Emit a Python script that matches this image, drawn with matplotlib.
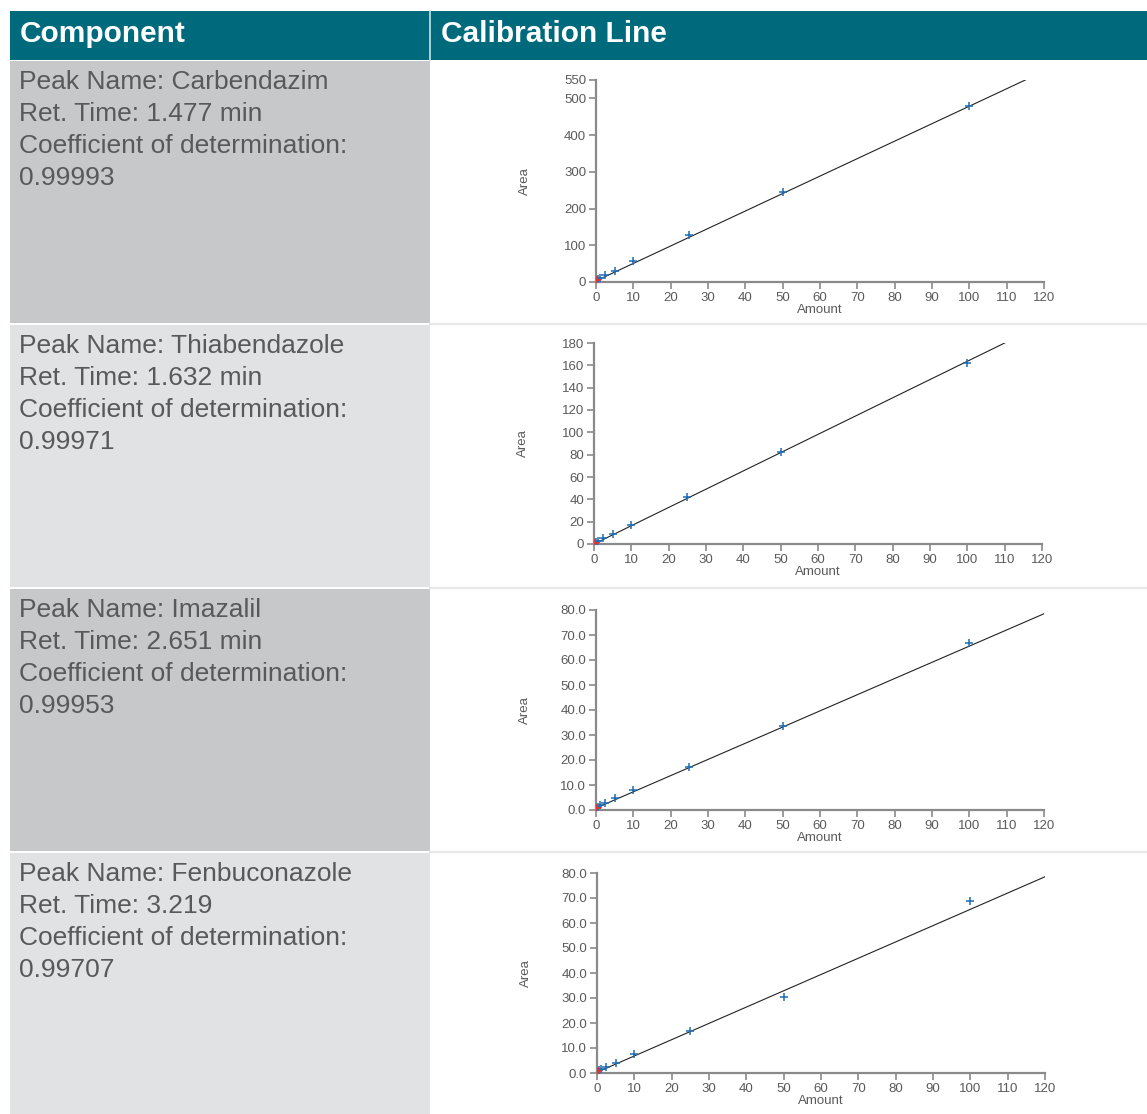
import matplotlib
matplotlib.use("Agg")
import matplotlib.pyplot as plt
from matplotlib.patches import Rectangle
from matplotlib.ticker import FormatStrFormatter
from matplotlib import font_manager

# pick a condensed face if one is available
names = {f.name for f in font_manager.fontManager.ttflist}
cond = "Liberation Sans Narrow" if "Liberation Sans Narrow" in names else "Liberation Sans"
plt.rcParams["font.family"] = [cond, "DejaVu Sans"]

# ---- data ----
components = ["Carbendazim", "Thiabendazole", "Imazalil", "Fenbuconazole"]
ret_times = ["1.477 min", "1.632 min", "2.651 min", "3.219"]
r2_values = ["0.99993", "0.99971", "0.99953", "0.99707"]

amounts = [0.5, 1, 2.5, 5, 10, 25, 50, 100]
area_carbendazim = [8, 12, 19, 31, 57, 127, 244, 480]
area_thiabendazole = [1.5, 2.5, 5, 9, 17, 42, 82, 162]
area_imazalil = [1.3, 2.0, 3.0, 4.8, 8.0, 17.2, 33.5, 67.0]
area_fenbuconazole = [1.2, 1.8, 2.5, 4.0, 7.5, 16.8, 30.5, 69.0]
areas = [area_carbendazim, area_thiabendazole, area_imazalil, area_fenbuconazole]

# low-level points drawn in red
red_amount = 0.25
red_area = [5, 1.0, 1.0, 1.0]

# calibration line end points (x0, x1), (y0, y1)
line_x = [(0, 115), (0, 110), (0, 120), (0, 120)]
line_y = [(3, 550), (0, 180), (0.8, 78.5), (0.3, 78.5)]

y_max = [550, 180, 80, 80]
y_ticks = [[0, 100, 200, 300, 400, 500, 550],
           list(range(0, 181, 20)),
           list(range(0, 81, 10)),
           list(range(0, 81, 10))]
y_fmt = ["%d", "%d", "%.1f", "%.1f"]
x_ticks = list(range(0, 121, 10))

W, H = 1147, 1114
fig = plt.figure(figsize=(W / 100, H / 100), dpi=100)

# table background in pixel coordinates
bg = fig.add_axes([0, 0, 1, 1])
bg.set_xlim(0, W)
bg.set_ylim(H, 0)
bg.axis("off")

teal = "#006a7d"
bg.add_patch(Rectangle((10, 11), W - 10, 49, color=teal, lw=0))
bg.plot([430, 430], [11, 60], color="#cfe3e8", lw=1.2)
bg.text(20, 34, "Component", color="white", fontsize=21.5, fontweight="bold",
        va="center", ha="left", family=["Liberation Sans", "DejaVu Sans"])
bg.text(441, 34, "Calibration Line", color="white", fontsize=21.5, fontweight="bold",
        va="center", ha="left", family=["Liberation Sans", "DejaVu Sans"])

row_top = [61, 325, 589, 853]
row_h = 262
cell_colors = ["#c7c8ca", "#e1e2e4", "#c7c8ca", "#e1e2e4"]
for i, top in enumerate(row_top):
    bg.add_patch(Rectangle((10, top), 420, row_h, color=cell_colors[i], lw=0))
    if i > 0:
        bg.plot([430, W], [top - 1, top - 1], color="#e6e7e8", lw=1.5)
    lines = [f"Peak Name: {components[i]}", f"Ret. Time: {ret_times[i]}",
             "Coefficient of determination:", r2_values[i]]
    for k, s in enumerate(lines):
        bg.text(19, top + 21 + k * 32, s, color="#58595b", fontsize=19,
                va="center", ha="left")

# axes boxes in pixels: left, bottom(y of zero), right, top
boxes = [(596, 282, 1044, 80), (594, 544, 1042, 343),
         (596, 810, 1044, 610), (597, 1073, 1045, 873)]

grey = "#5a5a5a"
for i, (l, b, r, t) in enumerate(boxes):
    ax = fig.add_axes([l / W, (H - b) / H, (r - l) / W, (b - t) / H])
    ax.patch.set_alpha(0)
    ax.plot(line_x[i], line_y[i], color="#222222", lw=0.8, zorder=2)
    ax.plot(amounts, areas[i], ls="none", marker="+", ms=6, mew=1.1,
            color="#1f6db3", zorder=3)
    ax.plot([red_amount], [red_area[i]], ls="none", marker="+", ms=6, mew=1.3,
            color="#e0343a", zorder=4)
    ax.set_xlim(0, 120)
    ax.set_ylim(0, y_max[i])
    ax.set_xticks(x_ticks)
    ax.set_yticks(y_ticks[i])
    ax.yaxis.set_major_formatter(FormatStrFormatter(y_fmt[i]))
    for s in ["top", "right"]:
        ax.spines[s].set_visible(False)
    for s in ["left", "bottom"]:
        ax.spines[s].set_color("#8a8a8a")
        ax.spines[s].set_linewidth(1.6)
        ax.spines[s].set_clip_on(False)
    ax.tick_params(colors="#8a8a8a", labelcolor=grey, labelsize=9.5,
                   length=5, width=1.2, pad=2)
    ax.set_xlabel("Amount", color=grey, fontsize=9.5, labelpad=0)
    ax.set_ylabel("Area", color=grey, fontsize=9.5)
    ax.yaxis.set_label_coords(-0.145, 0.5)

fig.savefig("out.png", dpi=100)
